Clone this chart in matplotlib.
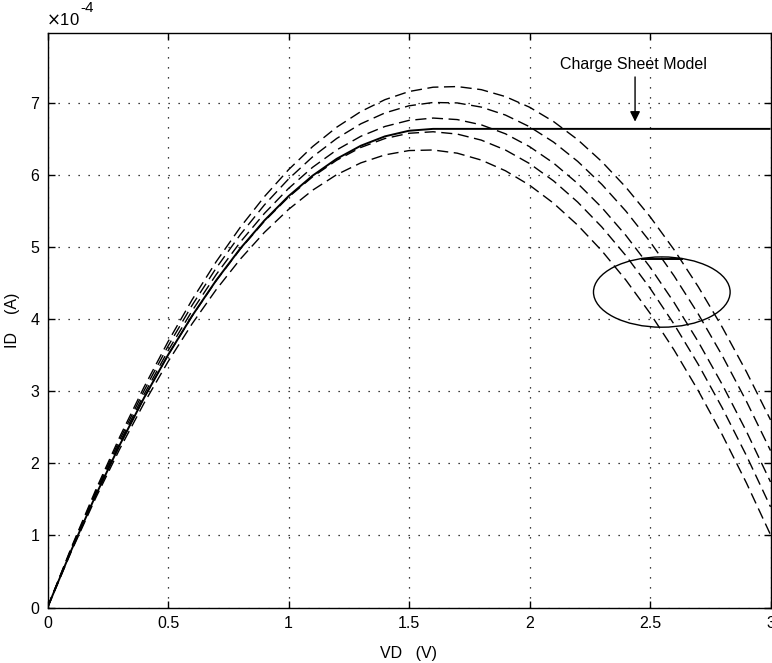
import matplotlib
matplotlib.use("Agg")
import matplotlib.pyplot as plt
from matplotlib.patches import Ellipse

plt.rcParams['font.family'] = ['Liberation Sans', 'DejaVu Sans']

# Drain voltage samples (V)
vd = [0.0, 0.1, 0.2, 0.3, 0.4, 0.5, 0.6, 0.7, 0.8, 0.9, 1.0,
      1.1, 1.2, 1.3, 1.4, 1.5, 1.6, 1.7, 1.8, 1.9, 2.0,
      2.1, 2.2, 2.3, 2.4, 2.5, 2.6, 2.7, 2.8, 2.9, 3.0]

# Drain current, units of 1e-4 A (dashed model curves)
id_dash1 = [0.0, 0.842, 1.631, 2.369, 3.054, 3.687, 4.269, 4.798, 5.275, 5.700, 6.073,
            6.394, 6.663, 6.880, 7.045, 7.158, 7.218, 7.227, 7.184, 7.088, 6.941,
            6.741, 6.490, 6.186, 5.830, 5.423, 4.963, 4.451, 3.887, 3.271, 2.603]
id_dash2 = [0.0, 0.829, 1.606, 2.331, 3.004, 3.625, 4.193, 4.709, 5.173, 5.585, 5.944,
            6.252, 6.507, 6.710, 6.861, 6.960, 7.006, 7.000, 6.942, 6.832, 6.670,
            6.456, 6.189, 5.870, 5.499, 5.076, 4.600, 4.073, 3.493, 2.861, 2.177]
id_dash3 = [0.0, 0.817, 1.581, 2.293, 2.953, 3.561, 4.116, 4.619, 5.069, 5.467, 5.813,
            6.107, 6.348, 6.537, 6.673, 6.758, 6.790, 6.769, 6.696, 6.572, 6.394,
            6.165, 5.882, 5.549, 5.162, 4.723, 4.231, 3.688, 3.092, 2.444, 1.742]
id_dash4 = [0.0, 0.804, 1.557, 2.257, 2.904, 3.501, 4.043, 4.534, 4.972, 5.359, 5.693,
            5.975, 6.205, 6.382, 6.506, 6.579, 6.600, 6.568, 6.484, 6.347, 6.159,
            5.918, 5.624, 5.279, 4.881, 4.431, 3.929, 3.374, 2.768, 2.108, 1.397]
id_dash5 = [0.0, 0.786, 1.519, 2.201, 2.831, 3.409, 3.936, 4.410, 4.833, 5.204, 5.522,
            5.789, 6.005, 6.168, 6.279, 6.339, 6.347, 6.303, 6.207, 6.059, 5.859,
            5.608, 5.304, 4.949, 4.542, 4.083, 3.572, 3.009, 2.395, 1.729, 1.010]
dashed_curves = [id_dash1, id_dash2, id_dash3, id_dash4, id_dash5]

# Charge sheet model (solid)
id_charge_sheet = [0.0, 0.804, 1.556, 2.257, 2.905, 3.502, 4.046, 4.539, 4.980, 5.369, 5.706,
                   5.991, 6.225, 6.406, 6.536, 6.614, 6.640, 6.640, 6.640, 6.640, 6.640,
                   6.640, 6.640, 6.640, 6.640, 6.640, 6.640, 6.640, 6.640, 6.640, 6.640]

x_ticks = [0, 0.5, 1, 1.5, 2, 2.5, 3]
x_tick_labels = ["0", "0.5", "1", "1.5", "2", "2.5", "3"]
y_ticks = [0, 1, 2, 3, 4, 5, 6, 7]
y_tick_labels = ["0", "1", "2", "3", "4", "5", "6", "7"]

W, H = 772, 663
fig = plt.figure(figsize=(W / 100, H / 100), dpi=100)
ax = fig.add_axes([47.5 / W, 1 - 607.5 / H, 723 / W, 574.5 / H])

for c in dashed_curves:
    ax.plot(vd, c, color='black', lw=1.0, linestyle=(0, (8, 4)))
ax.plot(vd, id_charge_sheet, color='black', lw=1.4, solid_capstyle='butt')

ax.set_xlim(0, 3)
ax.set_ylim(0, 7.97)
ax.set_xticks(x_ticks)
ax.set_xticklabels(x_tick_labels)
ax.set_yticks(y_ticks)
ax.set_yticklabels(y_tick_labels)
ax.tick_params(direction='in', length=5, width=1, top=True, right=True,
               labelsize=11.5, pad=6, colors='black')
ax.grid(True, color='black', linestyle=(0, (1, 7)), lw=0.9)
for s in ax.spines.values():
    s.set_linewidth(1.0)

# ellipse marking the dashed curves
ell = Ellipse((2.549, 4.376), 0.567, 0.975, fill=False, edgecolor='black', lw=1.0)
ax.add_patch(ell)
ax.plot([2.466, 2.632], [4.84, 4.84], color='black', lw=1.4)

# annotation
ax.annotate("", xy=(2.438, 6.74), xytext=(2.438, 7.36),
            arrowprops=dict(arrowstyle='-|>', color='black', lw=1.0,
                            mutation_scale=15, shrinkA=0, shrinkB=0))
ax.text(2.43, 7.53, "Charge Sheet Model", fontsize=11.5, ha='center', va='center')

ax.set_xlabel("VD   (V)", fontsize=11.5, labelpad=11)
ax.set_ylabel("ID    (A)", fontsize=11.5)
ax.yaxis.set_label_coords((20 - 47.5) / 723, 0.5)

fig.text(46 / W, 1 - 20 / H, r"$\times$10", fontsize=12, ha='left', va='center')
fig.text(80 / W, 1 - 8 / H, "-4", fontsize=11, ha='left', va='center')

fig.savefig("out.png", dpi=100)
